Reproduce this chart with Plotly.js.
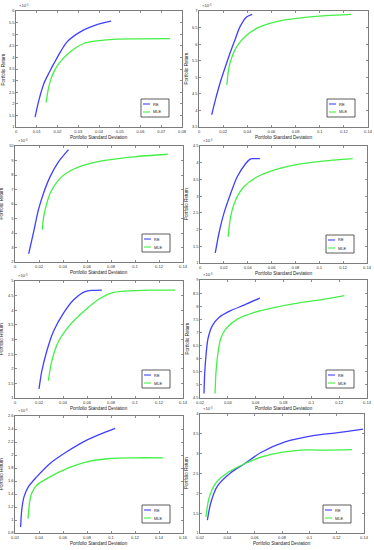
<!DOCTYPE html>
<html><head><meta charset="utf-8">
<script src="https://cdn.plot.ly/plotly-3.0.1.min.js"></script>
<style>body{margin:0;background:#fff}#c{width:374px;height:550px}</style>
</head><body><div id="c"></div>
<script>
// Portfolio returns are in units of 10^-3
const seriesNames = ["RE", "MLE"];
const xTitle = "Portfolio Standard Deviation";
const yTitle = "Portfolio Return";
const expLabel = "×10⁻³";

const p1_re_x  = [0.0092,0.0110,0.0135,0.0160,0.0183,0.0215,0.0246,0.0310,0.0390,0.0458];
const p1_re_y  = [1.43,2.15,2.89,3.35,3.74,4.25,4.67,5.10,5.41,5.56];
const p1_mle_x = [0.0145,0.0155,0.0167,0.0185,0.0207,0.0262,0.0326,0.0390,0.0485,0.0596,0.0742];
const p1_mle_y = [2.06,2.60,3.03,3.42,3.74,4.24,4.60,4.71,4.79,4.80,4.81];

const p2_re_x  = [0.0105,0.0138,0.0174,0.0215,0.0256,0.0300,0.0339,0.0394,0.0441];
const p2_re_y  = [3.87,4.35,4.82,5.28,5.72,6.15,6.52,6.82,6.90];
const p2_mle_x = [0.0231,0.0240,0.0256,0.0311,0.0394,0.0504,0.0669,0.0862,0.1055,0.1260];
const p2_mle_y = [4.77,5.10,5.42,5.92,6.27,6.52,6.70,6.80,6.86,6.90];

const p3_re_x  = [0.0114,0.0153,0.0195,0.0237,0.0292,0.0362,0.0446];
const p3_re_y  = [2.57,3.99,5.59,6.73,7.87,8.90,9.75];
const p3_mle_x = [0.0228,0.0235,0.0251,0.0292,0.0362,0.0460,0.0599,0.0766,0.0989,0.1273];
const p3_mle_y = [4.22,4.90,5.59,6.73,7.65,8.29,8.74,9.02,9.25,9.43];

const p4_re_x  = [0.0128,0.0159,0.0201,0.0257,0.0312,0.0382,0.0418,0.0440,0.0502];
const p4_re_y  = [1.30,1.89,2.49,3.08,3.58,3.97,4.10,4.12,4.12];
const p4_mle_x = [0.0237,0.0257,0.0298,0.0368,0.0480,0.0619,0.0786,0.1010,0.1280];
const p4_mle_y = [1.79,2.39,2.88,3.28,3.58,3.78,3.93,4.04,4.12];

const p5_re_x  = [0.0200,0.0223,0.0264,0.0320,0.0404,0.0487,0.0584,0.0650,0.0724];
const p5_re_y  = [1.31,1.91,2.59,3.27,3.90,4.35,4.64,4.68,4.69];
const p5_mle_x = [0.0278,0.0306,0.0362,0.0459,0.0570,0.0710,0.0821,0.0988,0.1150,0.1336];
const p5_mle_y = [1.59,2.25,2.93,3.50,3.95,4.41,4.61,4.67,4.69,4.69];

const p6_re_x  = [0.0229,0.0233,0.0243,0.0257,0.0288,0.0336,0.0420,0.0516,0.0630];
const p6_re_y  = [4.67,5.36,6.12,6.75,7.25,7.57,7.83,8.04,8.31];
const p6_mle_x = [0.0308,0.0315,0.0330,0.0348,0.0384,0.0468,0.0587,0.0731,0.0922,0.1065,0.1238];
const p6_mle_y = [4.67,5.49,6.25,6.75,7.13,7.51,7.76,7.95,8.14,8.24,8.40];

const p7_re_x  = [0.0247,0.0256,0.0275,0.0311,0.0381,0.0492,0.0631,0.0798,0.1035];
const p7_re_y  = [0.893,1.15,1.355,1.51,1.664,1.87,2.05,2.23,2.41];
const p7_mle_x = [0.0309,0.0320,0.0339,0.0381,0.0492,0.0631,0.0798,0.0993,0.1188,0.1433];
const p7_mle_y = [1.02,1.25,1.41,1.535,1.664,1.79,1.895,1.946,1.957,1.957];

const p8_re_x  = [0.0254,0.0278,0.0327,0.0425,0.0523,0.0646,0.0817,0.1038,0.1209,0.1393];
const p8_re_y  = [1.325,1.75,2.18,2.52,2.74,3.03,3.29,3.46,3.53,3.62];
const p8_mle_x = [0.0244,0.0266,0.0315,0.0401,0.0523,0.0646,0.0793,0.0940,0.1136,0.1312];
const p8_mle_y = [1.41,1.88,2.26,2.52,2.74,2.91,3.03,3.09,3.09,3.10];

const xRanges = [[0,0.08],[0,0.14],[0,0.14],[0,0.14],[0,0.14],[0.02,0.14],[0.02,0.16],[0.02,0.14]];
const xSteps  = [0.01,0.02,0.02,0.02,0.02,0.02,0.02,0.02];
const yRanges = [[1,6],[3.5,7],[2,10],[1,4.5],[1,5],[4.5,9],[0.8,2.6],[1,4]];
const ySteps  = [0.5,0.5,1,0.5,0.5,0.5,0.2,0.5];

const data = [
  [p1_re_x,p1_re_y,p1_mle_x,p1_mle_y],
  [p2_re_x,p2_re_y,p2_mle_x,p2_mle_y],
  [p3_re_x,p3_re_y,p3_mle_x,p3_mle_y],
  [p4_re_x,p4_re_y,p4_mle_x,p4_mle_y],
  [p5_re_x,p5_re_y,p5_mle_x,p5_mle_y],
  [p6_re_x,p6_re_y,p6_mle_x,p6_mle_y],
  [p7_re_x,p7_re_y,p7_mle_x,p7_mle_y],
  [p8_re_x,p8_re_y,p8_mle_x,p8_mle_y]
];

// panel boxes in pixels [left, right, top, bottom]
const W = 374, H = 550;
const boxes = [
  [16,182,11,127],[199,368,11,127],
  [15,183,146,262],[200,367,146,263],
  [15,183,281,398],[200,367,280,398],
  [15,183,416,533],[200,364,414,533]
];
const PX = x => x / W, PY = y => 1 - y / H;
const colors = ["#4040ff", "#44f044"];
const FONT = "Liberation Sans, Arial, sans-serif";

const traces = [];
const layout = {
  width: W, height: H, margin: {l:0,r:0,t:0,b:0},
  paper_bgcolor: "#fff", plot_bgcolor: "#fff", showlegend: false,
  font: {family: FONT, color: "#222", size: 4},
  shapes: [], annotations: []
};

boxes.forEach((b, i) => {
  const k = i + 1, sfx = k === 1 ? "" : String(k);
  const d = data[i];
  for (let s = 0; s < 2; s++) {
    traces.push({
      x: d[2*s], y: d[2*s+1], type: "scatter", mode: "lines", name: seriesNames[s],
      xaxis: "x" + sfx, yaxis: "y" + sfx,
      line: {color: colors[s], width: 1.3, shape: "spline", smoothing: 0.8},
      hoverinfo: "skip"
    });
  }
  const common = {
    showgrid: false, zeroline: false, showline: true, linecolor: "#444", linewidth: 0.7,
    mirror: "ticks", ticks: "inside", ticklen: 2, tickwidth: 0.6, tickcolor: "#444",
    tickfont: {size: 4, family: FONT, color: "#333"}, fixedrange: true
  };
  layout["xaxis" + sfx] = Object.assign({}, common, {
    domain: [PX(b[0]), PX(b[1])], anchor: "y" + sfx,
    range: xRanges[i], dtick: xSteps[i], tick0: 0
  });
  layout["yaxis" + sfx] = Object.assign({}, common, {
    domain: [PY(b[3]), PY(b[2])], anchor: "x" + sfx,
    range: yRanges[i], dtick: ySteps[i], tick0: 0
  });
  // axis titles placed as paper annotations
  layout.annotations.push({
    xref: "paper", yref: "paper", x: PX((b[0] + b[1]) / 2), y: PY(b[3] + 6),
    xanchor: "center", yanchor: "top", showarrow: false,
    text: xTitle, font: {size: 4.6, family: FONT, color: "#222"}
  });
  layout.annotations.push({
    xref: "paper", yref: "paper", x: PX(b[0] - 9), y: PY((b[2] + b[3]) / 2),
    xanchor: "right", yanchor: "middle", showarrow: false, textangle: -90,
    text: yTitle, font: {size: 4.6, family: FONT, color: "#222"}
  });
  // exponent label
  layout.annotations.push({
    xref: "paper", yref: "paper", x: PX(b[0] + 1), y: PY(b[2] - 1),
    xanchor: "left", yanchor: "bottom", showarrow: false,
    text: expLabel, font: {size: 4.2, family: FONT, color: "#333"}
  });
  // legend box
  const lx1 = b[1] - 13, lx0 = lx1 - 28, ly1 = b[3] - 10, ly0 = ly1 - 18;
  layout.shapes.push({type: "rect", xref: "paper", yref: "paper",
    x0: PX(lx0), x1: PX(lx1), y0: PY(ly1), y1: PY(ly0),
    line: {color: "#333", width: 0.8}, fillcolor: "#fff"});
  for (let s = 0; s < 2; s++) {
    const yy = ly0 + 5 + s * 8;
    layout.shapes.push({type: "line", xref: "paper", yref: "paper",
      x0: PX(lx0 + 2), x1: PX(lx0 + 9), y0: PY(yy), y1: PY(yy),
      line: {color: colors[s], width: 1.1}});
    layout.annotations.push({xref: "paper", yref: "paper", x: PX(lx0 + 10), y: PY(yy),
      xanchor: "left", yanchor: "middle", showarrow: false, text: seriesNames[s],
      font: {size: 4, family: FONT, color: "#222"}});
  }
});

Plotly.newPlot("c", traces, layout, {staticPlot: true, displayModeBar: false});
</script></body></html>
